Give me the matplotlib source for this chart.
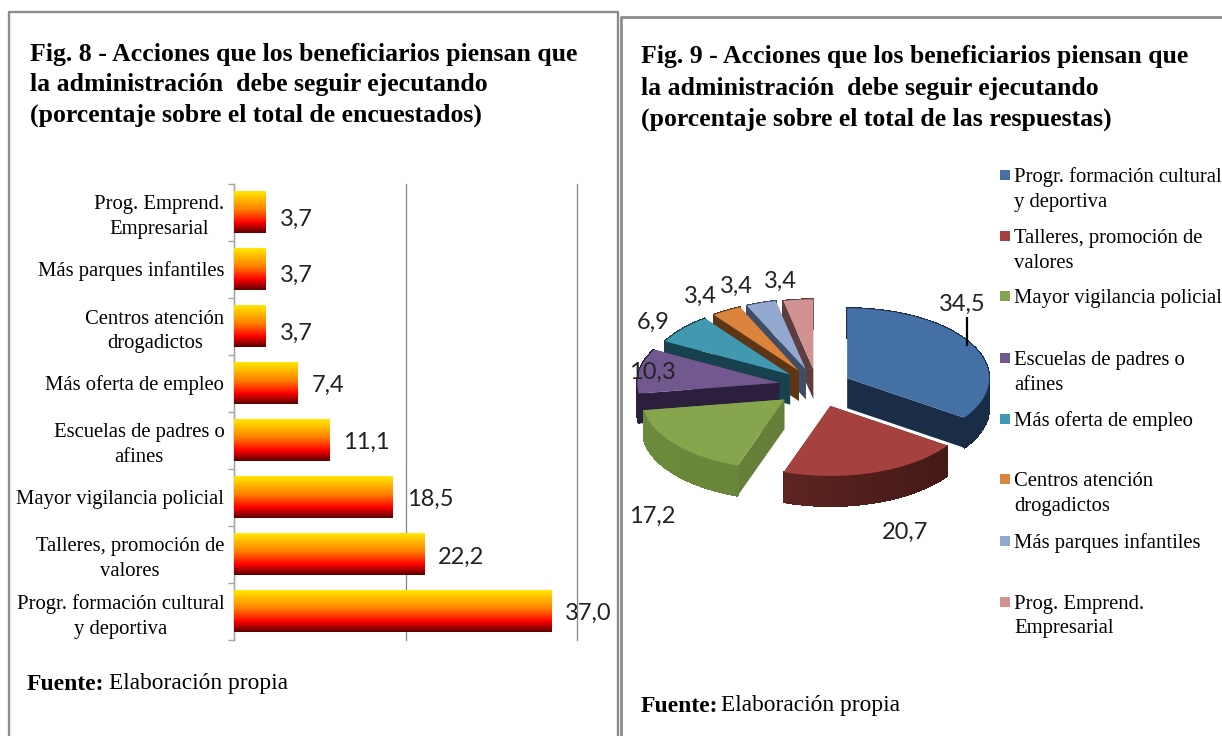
import numpy as np
import matplotlib
matplotlib.use('Agg')
import matplotlib.pyplot as plt
from matplotlib.colors import LinearSegmentedColormap, to_rgb
from matplotlib.patches import Polygon, Rectangle

### datos
titulo8 = ['Fig. 8 - Acciones que los beneficiarios piensan que',
           'la administración  debe seguir ejecutando',
           '(porcentaje sobre el total de encuestados)']
titulo9 = ['Fig. 9 - Acciones que los beneficiarios piensan que',
           'la administración  debe seguir ejecutando',
           '(porcentaje sobre el total de las respuestas)']

categorias_bar = ['Prog. Emprend.\nEmpresarial', 'Más parques infantiles',
                  'Centros atención\ndrogadictos', 'Más oferta de empleo',
                  'Escuelas de padres o\nafines', 'Mayor vigilancia policial',
                  'Talleres, promoción de\nvalores',
                  'Progr. formación cultural\ny deportiva']
valores_bar = [3.7, 3.7, 3.7, 7.4, 11.1, 18.5, 22.2, 37.0]

categorias_pie = ['Progr. formación cultural\ny deportiva',
                  'Talleres, promoción de\nvalores',
                  'Mayor vigilancia policial',
                  'Escuelas de padres o\nafines',
                  'Más oferta de empleo',
                  'Centros atención\ndrogadictos',
                  'Más parques infantiles',
                  'Prog. Emprend.\nEmpresarial']
valores_pie = [34.5, 20.7, 17.2, 10.3, 6.9, 3.4, 3.4, 3.4]
colores_pie = ['#4470a6', '#a5413e', '#87a54c', '#71588f',
               '#4198af', '#db843d', '#93a9cf', '#d19392']
pared_izq = ['#1a2d47', '#6d2a28', '#6b8a3b', '#2b1f3d',
             '#17414d', '#5e3515', '#3f4d66', '#5d3d3d']
pared_der = ['#1a2d47', '#3f1815', '#66803a', '#2b1f3d',
             '#17414d', '#5e3515', '#3f4d66', '#5d3d3d']

W, H = 1222, 736
TEXTO = 'Liberation Serif'
NUM = 'Lato'

def coma(v):
    return f'{v:.1f}'.replace('.', ',')

def caja(x0, y0, x1, y1):  # pixeles -> fraccion de figura
    return [x0 / W, 1 - y1 / H, (x1 - x0) / W, (y1 - y0) / H]

fig = plt.figure(figsize=(W / 100, H / 100), dpi=100, facecolor='white')

### capa de fondo en pixeles: marcos y textos
bg = fig.add_axes([0, 0, 1, 1], zorder=0)
bg.set_xlim(0, W)
bg.set_ylim(H, 0)
bg.axis('off')
bg.plot([8.5, 8.5, 618, 618], [H, 11.5, 11.5, H], color='#8c8c8c', lw=1.7)
bg.plot([620.5, 620.5, W], [H, 16.5, 16.5], color='#8c8c8c', lw=2.0)

for y, linea in zip([54.5, 84.5, 115.5], titulo8):
    bg.text(30, y, linea, family=TEXTO, weight='bold', fontsize=18.5, va='center')
for y, linea in zip([57, 88, 119], titulo9):
    bg.text(641, y, linea, family=TEXTO, weight='bold', fontsize=18.5, va='center')

bg.text(27, 684, 'Fuente:', family=TEXTO, weight='bold', fontsize=17, va='center')
bg.text(109, 684, 'Elaboración propia', family=TEXTO, fontsize=16.8, va='center')
bg.text(641, 706, 'Fuente:', family=TEXTO, weight='bold', fontsize=17, va='center')
bg.text(721, 706, 'Elaboración propia', family=TEXTO, fontsize=16.8, va='center')

### Fig. 8: barras con degradado
ax = fig.add_axes(caja(234, 183.5, 577, 639.5), zorder=1)
pos = np.arange(len(valores_bar))
bars = ax.barh(pos, valores_bar, height=0.74, color='none')
cmap = LinearSegmentedColormap.from_list(
    'fuego', [(0, '#ffee00'), (0.45, '#ff8000'), (0.75, '#ff0000'), (1, '#5a0000')])
grad = np.linspace(0, 1, 256).reshape(-1, 1)
for b in bars:
    x0, y0 = b.get_x(), b.get_y()
    im = ax.imshow(grad, cmap=cmap, aspect='auto', zorder=3,
                   extent=[x0, x0 + b.get_width(), y0 + b.get_height(), y0])
    im.set_clip_path(b)
ax.set_xlim(0, 40)
ax.set_ylim(len(valores_bar) - 0.5, -0.5)
ax.set_xticks([0, 20, 40])
ax.set_xticklabels([])
ax.tick_params(axis='x', length=0)
ax.grid(axis='x', color='#868686', lw=0.9, zorder=0, clip_on=False)
ax.set_axisbelow(True)
ax.set_yticks(pos)
ax.set_yticklabels(categorias_bar, family=TEXTO, fontsize=14.9, linespacing=1.4,
                   multialignment='center')
ax.tick_params(axis='y', which='major', length=0, pad=7)
ax.set_yticks(np.arange(len(valores_bar) + 1) - 0.5, minor=True)
ax.tick_params(axis='y', which='minor', length=4, color='#a6a6a6', width=1)
for s in ['top', 'right', 'bottom']:
    ax.spines[s].set_visible(False)
ax.spines['left'].set_color('#a6a6a6')
ax.spines['left'].set_linewidth(1)
# ajuste vertical de cada etiqueta, en pixeles
ajuste_y = [7, 6, 7, 2, 2, 2, 3, 2]
for p, v, dy in zip(pos, valores_bar, ajuste_y):
    ax.annotate(coma(v), (v, p), xytext=(10, -dy * 0.72), textcoords='offset points',
                family=NUM, fontsize=17, color='#222222', va='center', ha='left',
                annotation_clip=False)

### Fig. 9: torta 3D hecha a mano
RX, RY, HONDO = 142, 70, 30
separacion = [0.24, 0.3, 0.3, 0.27, 0.25, 0.25, 0.25, 0.24]
pie_ax = fig.add_axes(caja(817 - 1.6 * RX, 386 - 2.4 * RY, 817 + 1.6 * RX, 386 + 2.4 * RY), zorder=2)
wedges, _ = pie_ax.pie(valores_pie, colors=colores_pie, startangle=90, counterclock=False,
                       explode=separacion, radius=1, normalize=True)
pie_ax.set_aspect('auto')
pie_ax.set_xlim(-1.6, 1.6)
pie_ax.set_ylim(-2.4, 2.4)
pie_ax.axis('off')

d = HONDO / RY
orden = [7, 6, 5, 4, 3, 0, 2, 1]  # de atras hacia adelante
for rango, i in enumerate(orden):
    w = wedges[i]
    cx, cy = w.center
    z = 10 + rango * 2
    ini, fin = np.radians(w.theta1), np.radians(w.theta2)
    c_izq, c_der = np.array(to_rgb(pared_izq[i])), np.array(to_rgb(pared_der[i]))
    # caras de corte
    for t in (ini, fin):
        px, py = cx + np.cos(t), cy + np.sin(t)
        pie_ax.add_patch(Polygon([(cx, cy), (px, py), (px, py - d), (cx, cy - d)],
                                 closed=True, fc=c_der if i else c_izq,
                                 ec='none', zorder=z))
    # pared exterior por tramos para el sombreado
    th = np.linspace(ini, fin, 30)
    for a, b in zip(th[:-1], th[1:]):
        f = (np.cos((a + b) / 2) + 1) / 2
        col = c_izq * (1 - f) + c_der * f
        pie_ax.add_patch(Polygon([(cx + np.cos(a), cy + np.sin(a)), (cx + np.cos(b), cy + np.sin(b)),
                                  (cx + np.cos(b), cy + np.sin(b) - d), (cx + np.cos(a), cy + np.sin(a) - d)],
                                 closed=True, fc=col, ec=col, lw=0.8, antialiased=False, zorder=z))
    w.set_zorder(z + 1)
    w.set_linewidth(0)

### textos de la torta, sobre una capa en pixeles
fg = fig.add_axes([0, 0, 1, 1], zorder=3)
fg.set_xlim(0, W)
fg.set_ylim(H, 0)
fg.axis('off')
fg.patch.set_alpha(0)
lugares = [(962, 304), (905, 532), (652, 516), (652, 372),
           (653, 322), (700, 296), (736, 286), (780, 281)]
for v, (x, y) in zip(valores_pie, lugares):
    fg.text(x, y, coma(v), family=NUM, fontsize=17, color='#222222', ha='center', va='center')
fg.plot([967, 967], [318, 345], color='black', lw=1.6)

### leyenda
y_leyenda = [175, 236, 296, 358, 419, 479, 541, 602]
for y, cat, col in zip(y_leyenda, categorias_pie, colores_pie):
    fg.add_patch(Rectangle((1000, y - 5), 10, 10, fc=col, ec='none'))
    for j, linea in enumerate(cat.split('\n')):
        fg.text(1014, y + 2 + j * 25, linea, family=TEXTO, fontsize=14.9, va='center')

fig.savefig('out.png', dpi=100)
